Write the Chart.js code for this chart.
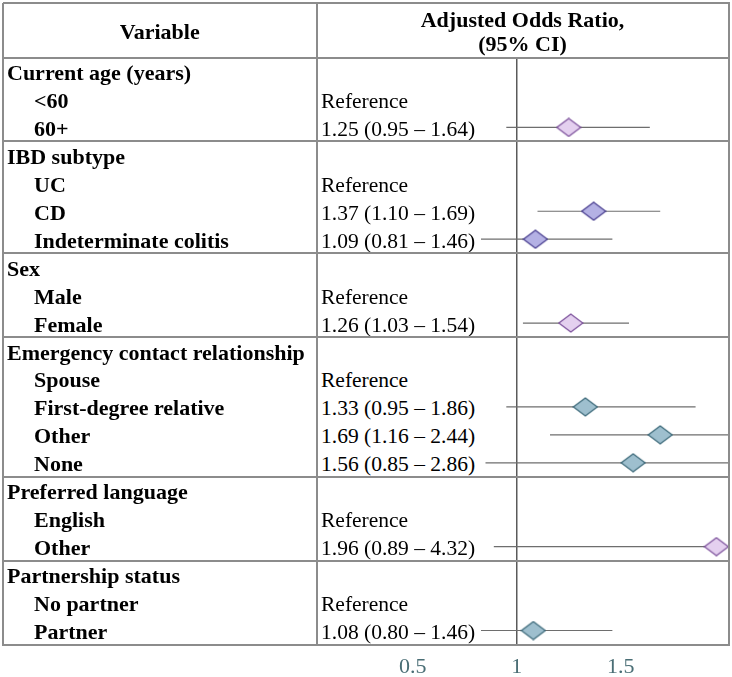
<!DOCTYPE html>
<html><head><meta charset="utf-8">
<script src="https://cdn.jsdelivr.net/npm/chart.js@4"></script>
<style>
html,body{margin:0;padding:0;background:#fff;}
#wrap{position:relative;width:732px;height:677px;overflow:hidden;font-family:"Liberation Serif","Times New Roman",serif;color:#000;}
#chart{position:absolute;left:0;top:0;}
.ln{position:absolute;background:#8c8c8c;z-index:2;}
.t{position:absolute;white-space:nowrap;line-height:24px;height:24px;z-index:1;}
.b{font-weight:bold;font-size:22px;}
.r{font-size:21.5px;background:#fff;padding-right:6px;}
</style></head>
<body><div id="wrap"><canvas id="chart" width="732" height="677"></canvas></div>
<script>
// ---------- data ----------
const headerVariable = "Variable";
const headerEstimate = ["Adjusted Odds Ratio,", "(95% CI)"];
const referenceLabel = "Reference";
const groupNames = ["Current age (years)", "IBD subtype", "Sex", "Emergency contact relationship", "Preferred language", "Partnership status"];
const levelNames = [["<60", "60+"], ["UC", "CD", "Indeterminate colitis"], ["Male", "Female"], ["Spouse", "First-degree relative", "Other", "None"], ["English", "Other"], ["No partner", "Partner"]];
const oddsRatio = [[null, 1.25], [null, 1.37, 1.09], [null, 1.26], [null, 1.33, 1.69, 1.56], [null, 1.96], [null, 1.08]];
const ciLow     = [[null, 0.95], [null, 1.10, 0.81], [null, 1.03], [null, 0.95, 1.16, 0.85], [null, 0.89], [null, 0.80]];
const ciHigh    = [[null, 1.64], [null, 1.69, 1.46], [null, 1.54], [null, 1.86, 2.44, 2.86], [null, 4.32], [null, 1.46]];
const xTickValues = [0.5, 1, 1.5];

// ---------- styles / layout ----------
const groupColor = ["pink", "violet", "pink", "blue", "pink", "blue"];
const palette = {
  pink:   { fill: "#e4d0ef", stroke: "#7d529c" },
  violet: { fill: "#b4b1e4", stroke: "#4a3f90" },
  blue:   { fill: "#9ebfce", stroke: "#3d6a7a" }
};
const L = { left: 3, divider: 316.5, right: 728.5, top: 3, head: 57.5, bottom: 644.5, refX: 516.7, pxPerUnit: 208, textShift: 1.5 };

const wrap = document.getElementById("wrap");
function el(cls, text, css) {
  const d = document.createElement("div");
  d.className = cls; d.textContent = text;
  Object.assign(d.style, css); wrap.appendChild(d); return d;
}
function hLine(y, x1, x2) { el("ln", "", { left: x1 + "px", top: (y - 1) + "px", width: (x2 - x1 + 1) + "px", height: "2px" }); }
function vLine(x, y1, y2) { el("ln", "", { left: (x - 1) + "px", top: y1 + "px", width: "2px", height: (y2 - y1 + 1) + "px" }); }

const totalRows = groupNames.reduce((s, g, i) => s + 1 + levelNames[i].length, 0);
const rowH = (L.bottom - L.head) / totalRows;
const rowCenter = r => L.head + rowH * (r + 0.5);
const textTop = r => (rowCenter(r) - 12 + L.textShift) + "px";

// table frame
hLine(L.top, L.left, L.right); hLine(L.head, L.left, L.right);
vLine(L.left, L.top, L.bottom); vLine(L.divider, L.top, L.bottom); vLine(L.right, L.top, L.bottom);

// header text
el("t b", headerVariable, { left: L.left + "px", width: (L.divider - L.left) + "px", textAlign: "center", top: (32 - 12) + "px" });
headerEstimate.forEach((s, i) => el("t b", s, { left: L.divider + "px", width: (L.right - L.divider) + "px", textAlign: "center", top: (20 + 24 * i - 12) + "px" }));

// rows + points
const points = [], pointStyles = [];
function diamond(c) {
  const cv = document.createElement("canvas"); cv.width = 26; cv.height = 20;
  const g = cv.getContext("2d");
  g.beginPath(); g.moveTo(1, 10); g.lineTo(13, 1); g.lineTo(25, 10); g.lineTo(13, 19); g.closePath();
  g.fillStyle = c.fill; g.fill(); g.lineWidth = 1.3; g.strokeStyle = c.stroke; g.stroke();
  return cv;
}
const fmt = v => v.toFixed(2);
let r = 0;
groupNames.forEach((gName, gi) => {
  el("t b", gName, { left: "7px", top: textTop(r) });
  r++;
  levelNames[gi].forEach((lv, li) => {
    el("t b", lv, { left: "34px", top: textTop(r) });
    const or = oddsRatio[gi][li];
    const txt = or === null ? referenceLabel : `${fmt(or)} (${fmt(ciLow[gi][li])} – ${fmt(ciHigh[gi][li])})`;
    el("t r", txt, { left: "321px", top: textTop(r) });
    if (or !== null) {
      points.push({ x: or, y: r, lo: ciLow[gi][li], hi: ciHigh[gi][li] });
      pointStyles.push(diamond(palette[groupColor[gi]]));
    }
    r++;
  });
  if (gi < groupNames.length - 1) hLine(L.head + rowH * r, L.left, L.right);
});
hLine(L.bottom, L.left, L.right);

const ciPlugin = {
  id: "ciLines",
  beforeDatasetsDraw(chart) {
    const { ctx, chartArea: a, scales: { x, y } } = chart;
    ctx.save();
    ctx.beginPath(); ctx.rect(a.left, a.top, a.right - a.left, a.bottom - a.top); ctx.clip();
    ctx.strokeStyle = "#6e6e6e"; ctx.lineWidth = 1.2;
    points.forEach(p => {
      const py = y.getPixelForValue(p.y);
      ctx.beginPath(); ctx.moveTo(x.getPixelForValue(p.lo), py); ctx.lineTo(x.getPixelForValue(p.hi), py); ctx.stroke();
    });
    ctx.restore();
  }
};

new Chart(document.getElementById("chart"), {
  type: "scatter",
  data: { datasets: [{ data: points, pointStyle: pointStyles, pointRadius: 12, pointHoverRadius: 12, clip: false }] },
  options: {
    responsive: false, animation: false,
    events: [],
    layout: { autoPadding: false, padding: { left: L.divider, right: 732 - L.right, top: L.head, bottom: 0 } },
    plugins: { legend: { display: false }, tooltip: { enabled: false } },
    scales: {
      x: {
        type: "linear",
        min: 1 - (L.refX - L.divider) / L.pxPerUnit,
        max: 1 + (L.right - L.refX) / L.pxPerUnit,
        afterBuildTicks: s => { s.ticks = xTickValues.map(v => ({ value: v })); },
        afterFit: s => { s.height = 677 - L.bottom; s.paddingLeft = 0; s.paddingRight = 0; },
        border: { display: false },
        grid: { drawTicks: false, lineWidth: 1.5, color: c => (c.tick && c.tick.value === 1 ? "#5a5a5a" : "rgba(0,0,0,0)") },
        ticks: { padding: 10, color: "#4a6e75", font: { family: "'Liberation Serif', serif", size: 22 }, callback: v => String(v) }
      },
      y: { type: "linear", display: false, reverse: true, min: -0.5, max: totalRows - 0.5 }
    }
  },
  plugins: [ciPlugin]
});
</script>
</body></html>
